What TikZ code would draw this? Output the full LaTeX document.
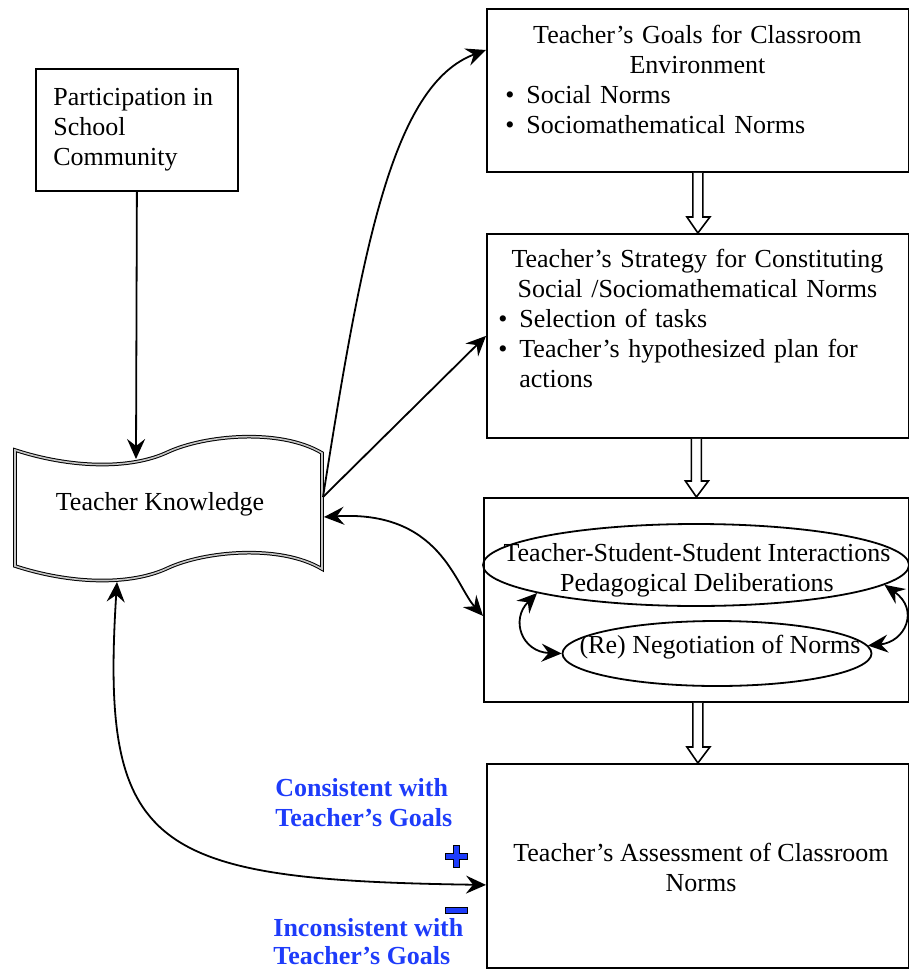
\documentclass[tikz,border=0pt]{standalone}
\usepackage{fontspec}
\setmainfont{Liberation Serif}
\usetikzlibrary{shapes.geometric, arrows.meta, calc}
\definecolor{lblblue}{RGB}{30,60,250}
\newcommand\blt[2]{\makebox[#2pt][l]{\hspace{#1pt}\textbullet}}
\newcommand\hollowarrow[2]{%
  \draw[hollow] ($(#1.south -| #2.north)+(-5,0)$) -- ($(#2.north)+(-5,-16)$)
    -- ($(#2.north)+(-11,-16)$) -- (#2.north)
    -- ($(#2.north)+(12,-16)$) -- ($(#2.north)+(5,-16)$)
    -- ($(#1.south -| #2.north)+(5,0)$);}
\tikzset{
  box/.style={draw, line width=0.9pt, rectangle, inner sep=0pt, anchor=north west},
  txt/.style={inner sep=0pt, font=\fontsize{13}{15}\selectfont},
  tip/.tip={Stealth[length=10pt,width=9pt,inset=3.5pt]},
  arr/.style={line width=0.9pt, -tip},
  darr/.style={line width=0.9pt, tip-tip},
  hollow/.style={draw, line width=0.8pt, fill=white, line join=miter},
  lbl/.style={inner sep=0pt, text=lblblue, align=left, font=\bfseries\fontsize{13}{15}\selectfont},
  tkline/.style={draw=black, double=gray!45, double distance=0.8pt, line width=0.5pt, fill=white},
  sign/.style={fill=lblblue, draw=black, line width=0.5pt},
}
\begin{document}
\begin{tikzpicture}[x=0.5pt, y=-0.5pt]
\useasboundingbox (0,0) rectangle (909,969);

% boxes
\node[box, minimum width=101pt, minimum height=61pt] (part) at (35,68) {};
\node[box, minimum width=211pt, minimum height=81.5pt] (goals) at (486,8) {};
\node[box, minimum width=211pt, minimum height=102pt] (strat) at (486,233) {};
\node[box, minimum width=212.5pt, minimum height=102pt] (inter) at (483,497) {};
\node[box, minimum width=211pt, minimum height=102pt] (assess) at (486,763) {};

% texts
\node[txt, anchor=base west, align=left] (partt) at (53,165) {Participation in\\School\\Community};
\node[txt, anchor=base west, text width=211pt] (goalst) at (486,43)
  {\centering Teacher’s Goals for Classroom\\Environment\par
   \raggedright\blt{9.5}{20}Social Norms\\\blt{9.5}{20}Sociomathematical Norms};
\node[txt, anchor=base west, text width=211pt] (stratt) at (486,267)
  {\centering Teacher’s Strategy for Constituting\\Social /Sociomathematical Norms\par
   \raggedright\blt{6}{16.5}Selection of tasks\\\blt{6}{16.5}Teacher’s hypothesized plan for\\\hspace*{16.5pt}actions};
\node[txt, anchor=base, align=center] (assesst) at (701,891) {Teacher’s Assessment of Classroom\\Norms};

% ellipses
\node[ellipse, draw, line width=0.9pt, inner sep=0pt, minimum width=213pt, minimum height=41pt] (e1) at (696,565) {};
\node[ellipse, draw, line width=0.9pt, inner sep=0pt, minimum width=154.5pt, minimum height=32.5pt] (e2) at (717,653.5) {};
\node[txt, anchor=base, align=center] (e1t) at (697,591) {Teacher-Student-Student Interactions\\Pedagogical Deliberations};
\node[txt, anchor=base] (e2t) at (720,653) {(Re) Negotiation of Norms};

% teacher knowledge wavy shape
\draw[tkline] (15,450) .. controls (70,468) and (130,470) .. (168,452)
  .. controls (205,435) and (280,428) .. (322,453) -- (322,569)
  .. controls (280,544) and (205,551) .. (168,568)
  .. controls (130,586) and (70,584) .. (15,566) -- cycle;
\node[txt, anchor=base] (tk) at (160,510) {Teacher Knowledge};
\coordinate (tkt) at (136,459);
\coordinate (tkr1) at (323,497);
\coordinate (tkr2) at (324,517);
\coordinate (tkb) at (117,582);

% hollow arrows
\hollowarrow{goals}{strat}
\hollowarrow{strat}{inter}
\hollowarrow{inter}{assess}

% connectors
\draw[arr] (part.south) -- (tkt);
\draw[arr] (tkr1) .. controls (362,250) and (392,85) .. ([yshift=-21pt]goals.north west);
\draw[arr] (tkr1) -- (strat.west);
\draw[darr] (tkr2) .. controls (440,510) and (455,585) .. ([yshift=-8pt]inter.west);
\draw[darr] (tkb) .. controls (100,850) and (150,880) .. ([yshift=-9.5pt]assess.west);
\draw[darr] (e1.190) .. controls (510,620) and (522,652) .. (e2.180);
\draw[darr] (e1.-6) .. controls (920,610) and (905,642) .. (e2.3);

% labels
\node[lbl, anchor=base west] (cons) at (275,826) {Consistent with\\Teacher’s Goals};
\node[lbl, anchor=base west, font=\bfseries\fontsize{13}{14}\selectfont] (incons) at (273,964) {Inconsistent with\\Teacher’s Goals};
\draw[sign] (453,845) -- (459,845) -- (459,853) -- (467,853) -- (467,859) -- (459,859)
  -- (459,867) -- (453,867) -- (453,859) -- (445,859) -- (445,853) -- (453,853) -- cycle;
\draw[sign] (445,907) rectangle (467,913);
\end{tikzpicture}
\end{document}
